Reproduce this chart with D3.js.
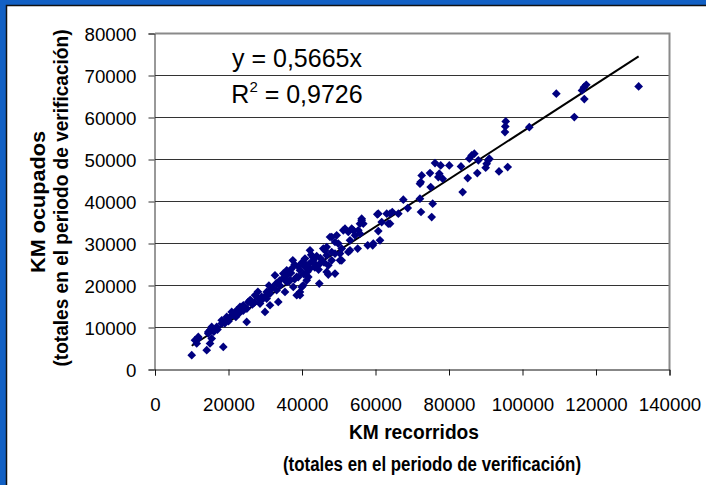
<!DOCTYPE html>
<html>
<head>
<meta charset="utf-8">
<script src="https://cdn.jsdelivr.net/npm/d3@7"></script>
<style>
    html, body { margin: 0; padding: 0; background: #1260c4; }
    svg { display: block; }
</style>
</head>
<body>
<div id="chart"></div>
<script>
// KM recorridos (x) vs KM ocupados (y), one entry per vehicle
const kmRecorridos = [
    131600, 117350, 116730, 116190, 116820, 109200, 114100, 101850,
    95430, 95320, 95230, 86170, 86890, 85530, 87980, 90250, 90690, 89980, 90960, 95970,
    93600, 87700, 85090, 83720, 83260, 80080, 77740, 76190, 77360, 78280, 77090, 74830,
    72570, 72300, 75020, 75560, 72100, 72380, 75290, 67570, 68770, 66210, 64570, 63050,
    63950, 60490, 61690, 60760, 59240, 57880, 56240, 56680, 55320, 55780, 54420, 53520,
    52600, 51700, 53060, 55150, 52600, 50800, 49880, 49440, 50340, 48980, 51240, 47620,
    48980, 46720, 48080, 45800, 48080, 47160, 48980, 47160, 44710, 42180, 42910, 40820,
    44000, 42180, 40820, 39450, 41710, 40350, 38560, 37200, 35840, 34910, 32650, 34010,
    35840, 37630, 35370, 39450, 38560, 33110, 31290, 30390, 33550, 29030, 28570, 31290,
    27210, 30390, 29930, 25390, 24030, 22670, 24950, 21770, 19950, 18150, 16790, 14970,
    14500, 15430, 18580, 14070, 11780, 11350, 9990, 20870, 31290, 25850, 23130, 22230,
    19510, 18150, 15430, 14500, 11780, 10880, 14970, 39450, 39920, 41280, 43070, 44900,
    46260, 46720, 48080, 53960, 55780, 56240, 50340, 50800, 46720, 53060, 59400, 61220,
    60760, 63480, 63950, 72100,
    36000, 37000, 38000, 36500, 34000, 33000, 39000, 40000, 41000, 43000, 38000, 37500,
    44000, 45000, 46000, 26000, 27000, 28000, 29000, 25000, 23000, 21000, 20000, 19000,
    17000, 16000, 22000, 24000, 26500, 28000, 30000, 32000, 31000,
    42000, 43500, 41500, 40500, 44500, 39000, 42500, 35000, 36800
];
const kmOcupados = [
    67400, 67800, 67230, 66440, 64380, 65660, 60100, 57700,
    59070, 57880, 56530, 50980, 51390, 50200, 49800, 49000, 49800, 48050, 50200, 48200,
    47170, 46770, 45580, 42250, 48360, 48600, 48600, 49150, 46630, 45440, 45820, 46770,
    46220, 44630, 43440, 39490, 40680, 37500, 36300, 40440, 38440, 37110, 37500, 37110,
    34730, 36950, 35110, 32970, 29570, 29570, 35920, 34730, 33140, 32350, 31950, 33540,
    32740, 33540, 30760, 28790, 27980, 28790, 29980, 31950, 26000, 27600, 33140, 31550,
    30360, 29170, 27980, 28790, 26000, 24810, 22840, 22600, 20460, 28380, 26790, 26410,
    24810, 24030, 24410, 23620, 22030, 20050, 22030, 24030, 23620, 22840, 22430, 21240,
    20840, 19650, 18460, 18460, 17680, 18870, 18080, 16890, 16080, 17270, 15700, 15300,
    17680, 18460, 13700, 16080, 15300, 14110, 11320, 12920, 12130, 10940, 10130, 9350,
    8560, 7370, 5380, 4590, 7370, 6190, 3400, 13700, 18870, 16490, 14890, 14110,
    12510, 11730, 10130, 8950, 7760, 6970, 6190, 17680, 19650, 21240, 26000, 25220,
    28380, 27190, 31550, 33140, 34730, 35520, 27600, 26000, 23220, 28380, 29980, 30760,
    37110, 34730, 37110, 44250,
    22500, 23000, 21500, 21000, 20000, 20500, 24500, 25500, 25000, 25500, 25000, 26000,
    27000, 26500, 25500, 16500, 16000, 17000, 16500, 14500, 13500, 13000, 11500, 11000,
    9500, 9000, 12500, 14000, 15500, 18500, 17500, 19500, 20000,
    25200, 24300, 23300, 22700, 23800, 22000, 27300, 21800, 21300
];

// Axis ticks and regression
const xTicks = [0, 20000, 40000, 60000, 80000, 100000, 120000, 140000];
const yTicks = [0, 10000, 20000, 30000, 40000, 50000, 60000, 70000, 80000];
const trendSlope = 0.5665;
const equationText = 'y = 0,5665x';
const r2Text = '0,9726';

const xTitle = ['KM recorridos', '(totales en el periodo de verificación)'];
const yTitle = ['KM ocupados', '(totales en el periodo de verificación)'];

const W = 706, H = 485;
const FONT = "Arial, 'Liberation Sans', sans-serif";

const svg = d3.select('#chart').append('svg')
    .attr('width', W)
    .attr('height', H);

// Blue slide background with the white chart panel
svg.append('rect')
    .attr('width', W).attr('height', H)
    .attr('fill', '#1260c4');
svg.append('rect')
    .attr('x', 6.5).attr('y', 5.5)
    .attr('width', W).attr('height', H)
    .attr('fill', '#fff')
    .attr('stroke', '#111')
    .attr('stroke-width', 1.5);

const x = d3.scaleLinear().domain([0, 140000]).range([155, 669.5]);
const y = d3.scaleLinear().domain([0, 80000]).range([369.5, 33.5]);

// Horizontal gridlines
svg.append('g')
    .selectAll('line')
    .data(yTicks.filter(d => d > 0 && d < 80000))
    .enter()
    .append('line')
    .attr('x1', x(0)).attr('x2', x(140000))
    .attr('y1', d => y(d)).attr('y2', d => y(d))
    .attr('stroke', '#333')
    .attr('stroke-width', 1);

// Plot area border (top and right, grey)
svg.append('path')
    .attr('d', `M${x(0)},${y(80000)}H${x(140000)}V${y(0)}`)
    .attr('fill', 'none')
    .attr('stroke', '#8a8a8a')
    .attr('stroke-width', 2);

// Y axis
const yAxis = d3.axisLeft(y)
    .tickValues(yTicks)
    .tickSize(6)
    .tickPadding(12)
    .tickFormat(d => d);
const gy = svg.append('g')
    .attr('transform', `translate(${x(0) - 0.5},0)`)
    .call(yAxis);
gy.select('.domain').attr('stroke', '#333');
gy.selectAll('.tick line').attr('stroke', '#333');
gy.selectAll('.tick text')
    .attr('font-family', FONT)
    .attr('font-size', '18.7px')
    .attr('fill', '#000')
    .attr('dy', '0.36em');

// X axis (labels sit well below the axis line)
const xAxis = d3.axisBottom(x)
    .tickValues(xTicks)
    .tickSize(6)
    .tickPadding(22)
    .tickFormat(d => d);
const gx = svg.append('g')
    .attr('transform', `translate(0,${y(0)})`)
    .call(xAxis);
gx.select('.domain').attr('stroke', '#111');
gx.selectAll('.tick line').attr('stroke', '#111');
gx.selectAll('.tick text')
    .attr('font-family', FONT)
    .attr('font-size', '18.7px')
    .attr('fill', '#000');

// Trend line over the data range
const xExtent = d3.extent(kmRecorridos);
svg.append('line')
    .attr('x1', x(xExtent[0])).attr('y1', y(xExtent[0] * trendSlope))
    .attr('x2', x(xExtent[1])).attr('y2', y(xExtent[1] * trendSlope))
    .attr('stroke', '#000')
    .attr('stroke-width', 2);

// Diamond markers
const diamond = d3.symbol().type(d3.symbolSquare).size(38);
svg.append('g')
    .selectAll('path')
    .data(d3.range(kmRecorridos.length))
    .enter()
    .append('path')
    .attr('d', diamond)
    .attr('transform', i => `translate(${x(kmRecorridos[i])},${y(kmOcupados[i])}) rotate(45)`)
    .attr('fill', '#000080');

// Equation and R²
svg.append('text')
    .attr('x', 297).attr('y', 67)
    .attr('text-anchor', 'middle')
    .attr('font-family', FONT)
    .attr('font-size', '25px')
    .text(equationText);

const r2 = svg.append('text')
    .attr('x', 297).attr('y', 103)
    .attr('text-anchor', 'middle')
    .attr('font-family', FONT)
    .attr('font-size', '25px');
r2.append('tspan').text('R');
r2.append('tspan').attr('dy', -11).attr('font-size', '15px').text('2');
r2.append('tspan').attr('dy', 11).text(' = ' + r2Text);

// Axis titles
svg.append('text')
    .attr('x', 414).attr('y', 439)
    .attr('text-anchor', 'middle')
    .attr('font-family', FONT)
    .attr('font-weight', 'bold')
    .attr('font-size', '21px')
    .attr('textLength', 130)
    .attr('lengthAdjust', 'spacingAndGlyphs')
    .text(xTitle[0]);
svg.append('text')
    .attr('x', 432).attr('y', 471)
    .attr('text-anchor', 'middle')
    .attr('font-family', FONT)
    .attr('font-weight', 'bold')
    .attr('font-size', '20px')
    .attr('textLength', 298)
    .attr('lengthAdjust', 'spacingAndGlyphs')
    .text(xTitle[1]);

svg.append('text')
    .attr('transform', 'translate(45,202) rotate(-90)')
    .attr('text-anchor', 'middle')
    .attr('font-family', FONT)
    .attr('font-weight', 'bold')
    .attr('font-size', '20px')
    .attr('textLength', 142)
    .attr('lengthAdjust', 'spacingAndGlyphs')
    .text(yTitle[0]);
svg.append('text')
    .attr('transform', 'translate(68,198) rotate(-90)')
    .attr('text-anchor', 'middle')
    .attr('font-family', FONT)
    .attr('font-weight', 'bold')
    .attr('font-size', '20px')
    .attr('textLength', 337)
    .attr('lengthAdjust', 'spacingAndGlyphs')
    .text(yTitle[1]);
</script>
</body>
</html>
